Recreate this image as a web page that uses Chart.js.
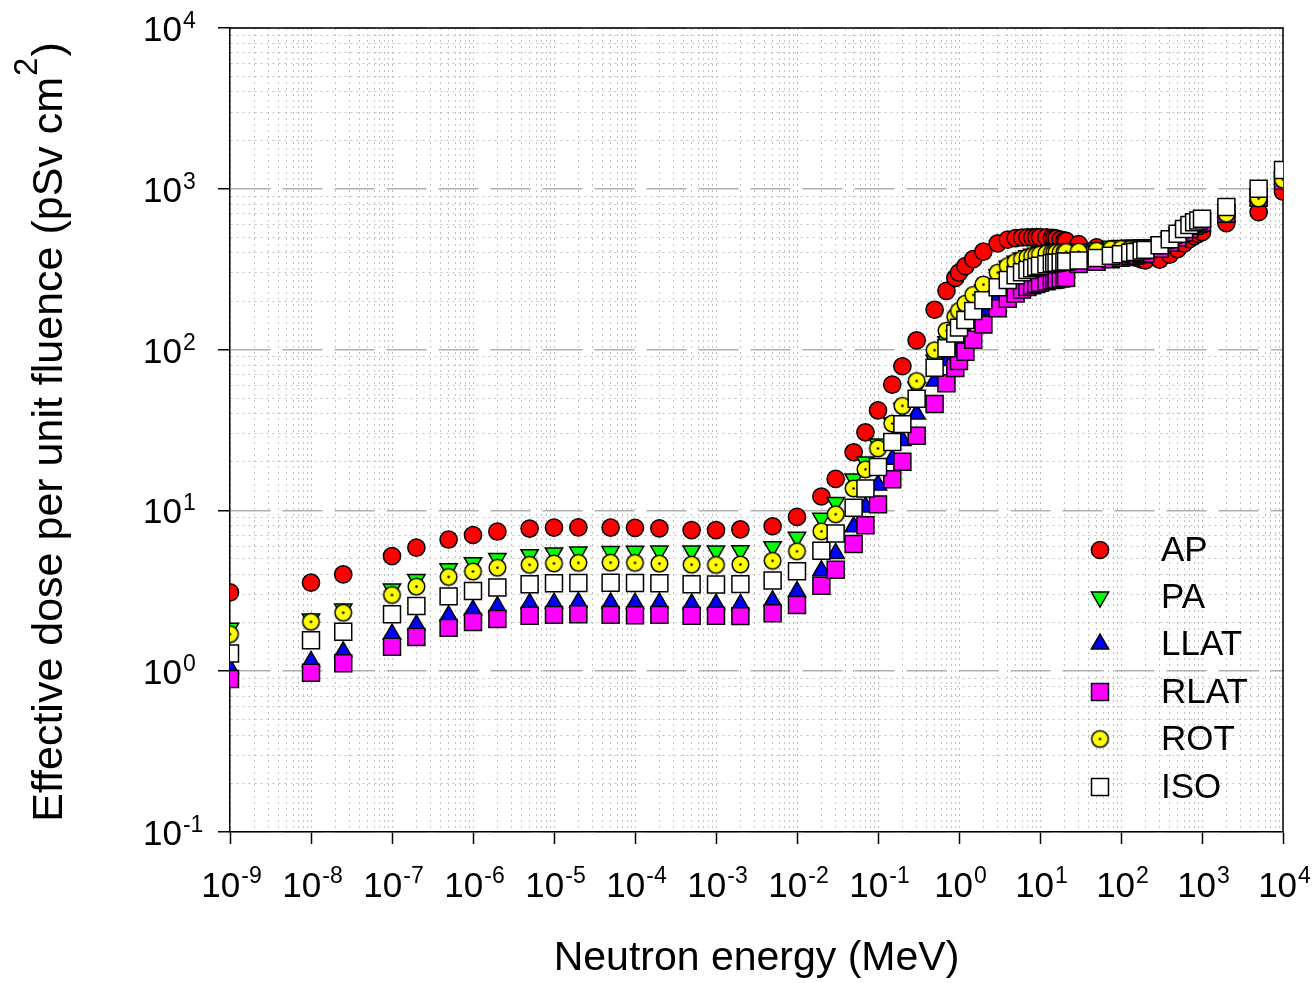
<!DOCTYPE html>
<html>
<head>
<meta charset="utf-8">
<script src="https://cdn.jsdelivr.net/npm/chart.js@4.4.0/dist/chart.umd.min.js"></script>
<style>
  html, body { margin: 0; padding: 0; background: #fff; }
  #wrap { width: 1312px; height: 983px; }
</style>
</head>
<body>
<div id="wrap"><canvas id="doseChart" width="1312" height="983"></canvas></div>
<script>
// neutron energies (MeV)
const energies = [1e-9, 1e-8, 2.5e-8, 1e-7, 2e-7, 5e-7, 1e-6, 2e-6, 5e-6, 1e-5, 2e-5, 5e-5,
  1e-4, 2e-4, 5e-4, 1e-3, 2e-3, 5e-3, 0.01, 0.02, 0.03, 0.05, 0.07, 0.1, 0.15, 0.2, 0.3,
  0.5, 0.7, 0.9, 1, 1.2, 1.5, 2, 3, 4, 5, 6, 7, 8, 9, 10, 12, 14, 15, 16, 18, 20, 21,
  30, 50, 75, 100, 130, 150, 180, 200, 300, 400, 500, 600, 700, 800, 900, 1000, 2000, 5000, 10000];

// effective dose per unit fluence (pSv cm2)
const ap = [3.09, 3.55, 4.00, 5.20, 5.87, 6.59, 7.03, 7.39, 7.71, 7.82, 7.84, 7.82,
  7.79, 7.73, 7.54, 7.54, 7.61, 7.97, 9.11, 12.2, 15.7, 23.0, 30.6, 41.9, 60.6, 78.8, 114,
  177, 232, 279, 301, 330, 365, 407, 458, 483, 494, 498, 499, 499, 500, 500, 499, 495, 493, 490, 484, 477, 474,
  453, 433, 420, 402, 382, 373, 363, 359, 363, 389, 422, 457, 486, 508, 524, 537, 612, 716, 960];
const pa = [1.85, 2.11, 2.44, 3.25, 3.72, 4.33, 4.73, 5.02, 5.30, 5.44, 5.51, 5.55,
  5.57, 5.59, 5.60, 5.60, 5.62, 5.95, 6.81, 8.93, 11.2, 15.7, 20.0, 25.9, 34.9, 43.1, 58.1,
  85.9, 112, 136, 148, 167, 195, 235, 292, 330, 354, 371, 383, 392, 398, 404, 412, 417, 419, 420, 422, 423, 423,
  422, 428, 439, 444, 446, 446, 447, 448, 464, 496, 533, 569, 599, 623, 640, 654, 740, 924, 1170];
const llat = [1.04, 1.15, 1.32, 1.70, 1.94, 2.21, 2.40, 2.52, 2.64, 2.65, 2.68, 2.66,
  2.65, 2.66, 2.62, 2.61, 2.60, 2.74, 3.13, 4.21, 5.40, 7.91, 10.5, 14.4, 20.8, 27.2, 39.7,
  63.7, 85.5, 105, 115, 130, 150, 176, 213, 236, 250, 260, 267, 272, 277, 281, 287, 292, 294, 295, 299, 301, 302,
  348, 360, 372, 380, 388, 393, 400, 404, 433, 470, 509, 545, 577, 600, 617, 631, 720, 900, 1150];
const rlat = [0.893, 0.978, 1.12, 1.42, 1.63, 1.86, 2.02, 2.11, 2.21, 2.24, 2.26, 2.24,
  2.23, 2.24, 2.21, 2.21, 2.20, 2.29, 2.58, 3.40, 4.28, 6.19, 8.09, 10.9, 15.6, 20.1, 29.1,
  45.9, 61.8, 76.8, 84.9, 97.1, 115, 143, 181, 207, 223, 236, 245, 251, 256, 260, 266, 271, 272, 274, 277, 279, 280,
  340, 352, 364, 372, 380, 385, 392, 396, 424, 461, 499, 534, 565, 588, 604, 618, 700, 880, 1120];
const rot = [1.70, 2.03, 2.31, 2.98, 3.36, 3.86, 4.17, 4.40, 4.59, 4.68, 4.72, 4.73,
  4.72, 4.67, 4.60, 4.58, 4.61, 4.86, 5.57, 7.41, 9.46, 13.7, 18.0, 24.3, 34.7, 44.7, 63.8,
  99.1, 131, 160, 174, 193, 219, 254, 301, 331, 351, 365, 374, 381, 386, 390, 396, 400, 401, 402, 403, 404, 405,
  407, 412, 421, 423, 422, 422, 423, 425, 445, 476, 511, 547, 578, 600, 616, 630, 700, 870, 1140];
const iso = [1.29, 1.56, 1.76, 2.26, 2.54, 2.92, 3.15, 3.32, 3.47, 3.52, 3.54, 3.55,
  3.54, 3.52, 3.47, 3.46, 3.48, 3.66, 4.19, 5.61, 7.18, 10.4, 13.7, 18.6, 26.6, 34.4, 49.4,
  77.1, 102, 126, 137, 153, 174, 203, 244, 271, 290, 303, 313, 321, 327, 332, 339, 344, 346, 347, 350, 352, 353,
  358, 371, 383, 392, 400, 405, 413, 417, 446, 485, 525, 562, 595, 619, 636, 651, 770, 1000, 1310];

const seriesNames = ['AP', 'PA', 'LLAT', 'RLAT', 'ROT', 'ISO'];
const xTickExps = [-9, -8, -7, -6, -5, -4, -3, -2, -1, 0, 1, 2, 3, 4];
const yTickExps = [-1, 0, 1, 2, 3, 4];

const FONT = "'Liberation Sans', Arial, sans-serif";

// yellow circle with a dot in the middle (ROT marker)
function makeRotMarker() {
  const c = document.createElement('canvas');
  c.width = 21; c.height = 21;
  const g = c.getContext('2d');
  g.beginPath();
  g.arc(10.5, 10.5, 8.3, 0, Math.PI * 2);
  g.fillStyle = '#ffff00';
  g.fill();
  g.lineWidth = 1.5;
  g.strokeStyle = '#000';
  g.stroke();
  g.beginPath();
  g.arc(10.5, 10.5, 1.3, 0, Math.PI * 2);
  g.fillStyle = '#000';
  g.fill();
  return c;
}
const rotMarker = makeRotMarker();

const styles = [
  { pointStyle: 'circle', radius: 8.6, rotation: 0, color: '#ff0000' },
  { pointStyle: 'triangle', radius: 10, rotation: 180, color: '#00ff00' },
  { pointStyle: 'triangle', radius: 10, rotation: 0, color: '#0000ff' },
  { pointStyle: 'rect', radius: 12, rotation: 0, color: '#ff00ff' },
  { pointStyle: rotMarker, radius: 8.3, rotation: 0, color: '#ffff00' },
  { pointStyle: 'rect', radius: 12, rotation: 0, color: '#ffffff' }
];

const allSeries = [ap, pa, llat, rlat, rot, iso];

const datasets = allSeries.map((vals, i) => ({
  label: seriesNames[i],
  data: energies.map((e, j) => ({ x: e, y: vals[j] })),
  pointStyle: styles[i].pointStyle,
  pointRadius: styles[i].radius,
  pointRotation: styles[i].rotation,
  pointBackgroundColor: styles[i].color,
  pointBorderColor: '#000',
  pointBorderWidth: 1.5,
  showLine: false,
  order: 6 - i
}));

function isDecade(v) {
  const e = Math.log10(v);
  return Math.abs(e - Math.round(e)) < 1e-6;
}

function logTicks(minExp, maxExp) {
  const t = [];
  for (let e = minExp; e < maxExp; e++) {
    for (let m = 1; m <= 9; m++) t.push({ value: m * Math.pow(10, e) });
  }
  t.push({ value: Math.pow(10, maxExp) });
  return t;
}

// tick labels 10^n, axis titles, frame and legend
const decorPlugin = {
  id: 'decor',
  beforeDatasetsDraw(chart) {
    const { ctx, chartArea: a } = chart;
    ctx.save();
    ctx.strokeStyle = '#000';
    ctx.lineWidth = 1.5;
    ctx.beginPath();
    ctx.moveTo(a.left, a.top);
    ctx.lineTo(a.right, a.top);
    ctx.lineTo(a.right, a.bottom);
    ctx.stroke();
    ctx.restore();
  },
  afterDraw(chart) {
    const { ctx, scales } = chart;
    const xs = scales.x, ys = scales.y;
    ctx.save();
    ctx.fillStyle = '#000';
    ctx.textBaseline = 'alphabetic';

    // x tick labels
    xTickExps.forEach(e => {
      const px = xs.getPixelForValue(Math.pow(10, e));
      ctx.font = '35px ' + FONT;
      const wb = ctx.measureText('10').width;
      ctx.font = '23px ' + FONT;
      const exp = e < 0 ? '-' + (-e) : String(e);
      const we = ctx.measureText(exp).width;
      const x0 = px - (wb + we) / 2 + 1;
      ctx.textAlign = 'left';
      ctx.font = '35px ' + FONT;
      ctx.fillText('10', x0, 897);
      ctx.font = '23px ' + FONT;
      ctx.fillText(exp, x0 + wb + 1, 883);
    });

    // y tick labels
    yTickExps.forEach(e => {
      const py = ys.getPixelForValue(Math.pow(10, e));
      const exp = e < 0 ? '-' + (-e) : String(e);
      ctx.textAlign = 'left';
      ctx.font = '35px ' + FONT;
      const wb = ctx.measureText('10').width;
      ctx.fillText('10', 143, py + 13);
      ctx.font = '23px ' + FONT;
      ctx.fillText(exp, 143 + wb + 1, py);
    });

    // x title
    ctx.font = '41px ' + FONT;
    ctx.textAlign = 'center';
    ctx.fillText('Neutron energy (MeV)', (chart.chartArea.left + chart.chartArea.right) / 2, 970);

    // y title with superscript 2
    const part1 = 'Effective dose per unit fluence (pSv cm';
    ctx.font = '43px ' + FONT;
    const w1 = ctx.measureText(part1).width;
    const w3 = ctx.measureText(')').width;
    ctx.font = '33px ' + FONT;
    const w2 = ctx.measureText('2').width;
    const total = w1 + w2 + 2 + w3;
    ctx.translate(62, 432);
    ctx.rotate(-Math.PI / 2);
    ctx.textAlign = 'left';
    ctx.font = '43px ' + FONT;
    ctx.fillText(part1, -total / 2, 0);
    ctx.font = '33px ' + FONT;
    ctx.fillText('2', -total / 2 + w1 + 1, -25);
    ctx.font = '43px ' + FONT;
    ctx.fillText(')', -total / 2 + w1 + w2 + 2, 0);
    ctx.setTransform(1, 0, 0, 1, 0, 0);

    // legend
    const legendY = [550, 597, 644, 692, 739, 787];
    seriesNames.forEach((name, i) => {
      const s = styles[i];
      ctx.fillStyle = s.color;
      ctx.strokeStyle = '#000';
      ctx.lineWidth = 1.5;
      Chart.helpers.drawPoint(ctx, {
        pointStyle: s.pointStyle, radius: s.radius, rotation: s.rotation, borderWidth: 1.5
      }, 1100, legendY[i]);
      ctx.fillStyle = '#000';
      ctx.font = '35px ' + FONT;
      ctx.textAlign = 'left';
      ctx.textBaseline = 'middle';
      ctx.fillText(name, 1161, legendY[i] + 1);
    });
    ctx.restore();
  }
};

const ctx = document.getElementById('doseChart').getContext('2d');
const doseChart = new Chart(ctx, {
  type: 'scatter',
  data: { datasets: datasets },
  options: {
    responsive: false,
    animation: false,
    layout: { padding: { left: 0, right: 29, top: 28, bottom: 0 } },
    plugins: {
      legend: { display: false },
      tooltip: { enabled: false }
    },
    scales: {
      x: {
        type: 'logarithmic',
        position: 'bottom',
        min: 1e-9,
        max: 1e4,
        afterBuildTicks: scale => { scale.ticks = logTicks(-9, 4); },
        afterFit: scale => { scale.height = 151; },
        ticks: { display: false },
        grid: {
          color: c => isDecade(c.tick.value) ? '#bcbcbc' : '#c2c2c2',
          lineWidth: 1,
          drawTicks: true,
          tickLength: 12,
          tickWidth: 1.5,
          tickColor: c => isDecade(c.tick.value) ? '#000' : 'rgba(0,0,0,0)'
        },
        border: { display: true, color: '#000', width: 1.5, dash: [2, 4] }
      },
      y: {
        type: 'logarithmic',
        position: 'left',
        min: 0.1,
        max: 1e4,
        afterBuildTicks: scale => { scale.ticks = logTicks(-1, 4); },
        afterFit: scale => { scale.width = 230; },
        ticks: { display: false },
        grid: {
          color: c => isDecade(c.tick.value) ? '#b0b0b0' : '#c2c2c2',
          lineWidth: c => isDecade(c.tick.value) ? 1.5 : 1,
          drawTicks: true,
          tickLength: 12,
          tickWidth: 1.5,
          tickColor: c => isDecade(c.tick.value) ? '#000' : 'rgba(0,0,0,0)'
        },
        border: {
          display: true, color: '#000', width: 1.5,
          dash: c => isDecade(c.tick.value) ? [40, 12] : [2, 4]
        }
      }
    }
  },
  plugins: [decorPlugin]
});
</script>
</body>
</html>
